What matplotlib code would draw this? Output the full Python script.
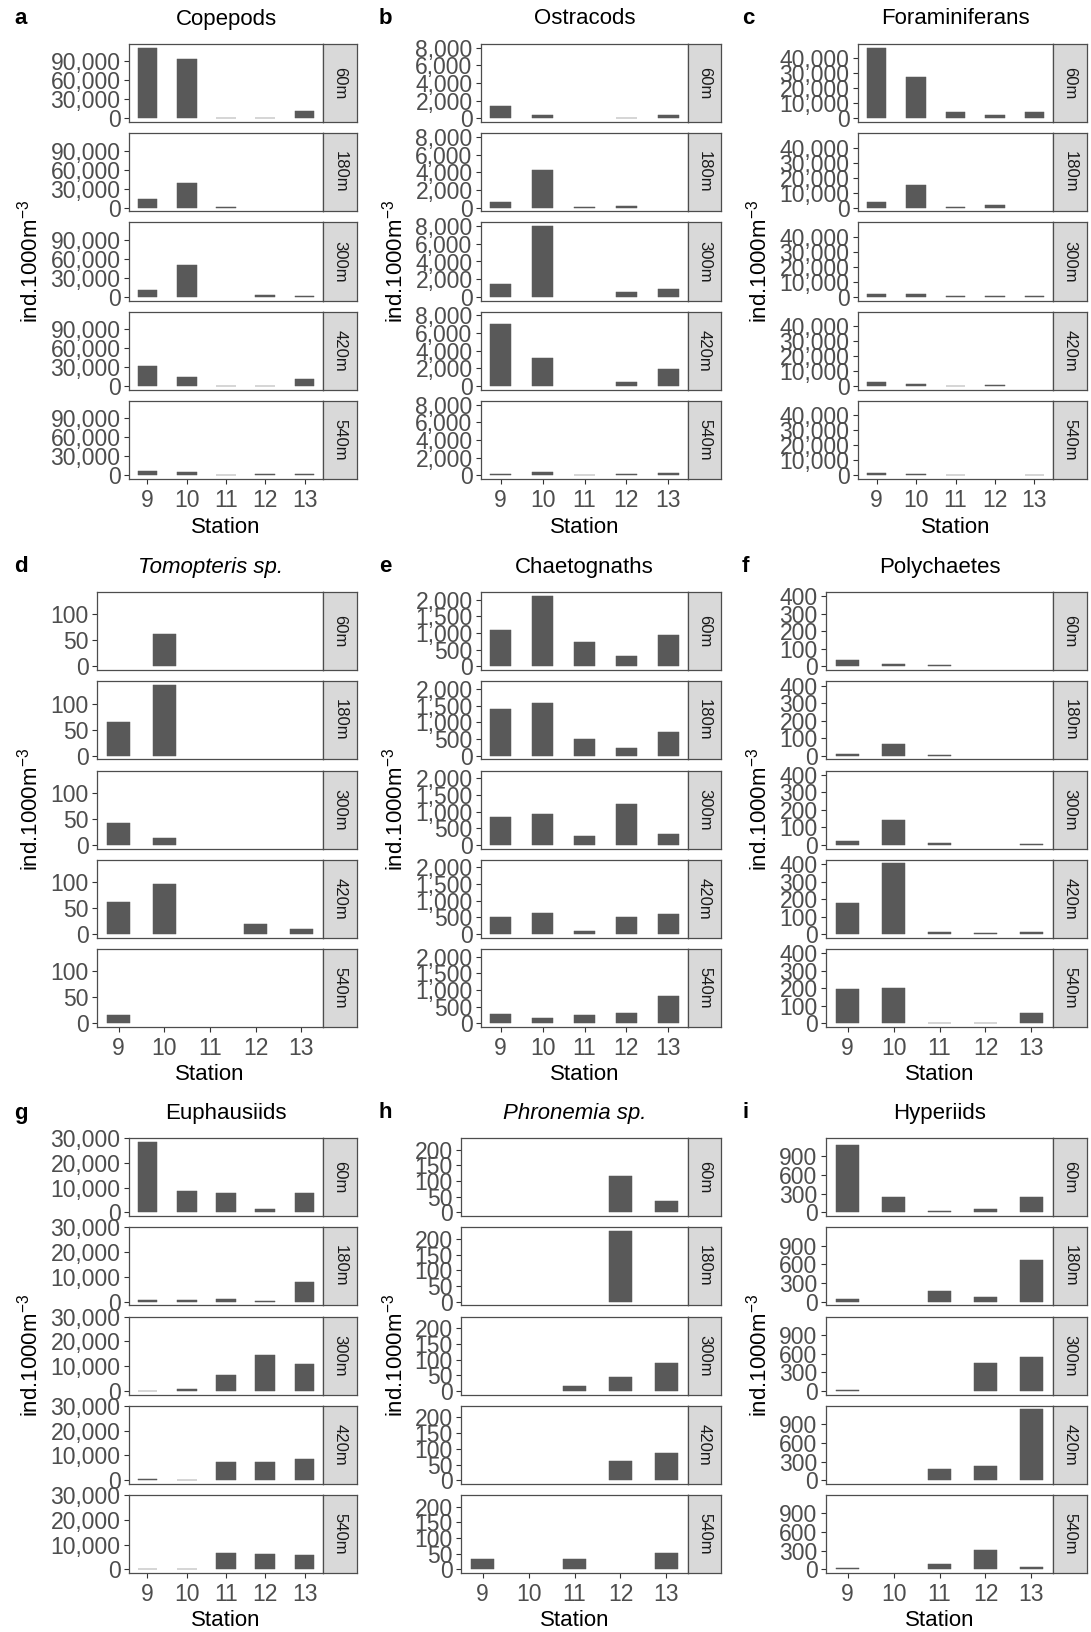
import numpy as np
import matplotlib.pyplot as plt
from matplotlib.ticker import FuncFormatter

plt.rcParams['font.family'] = ['Liberation Sans', 'DejaVu Sans']
plt.rcParams['mathtext.fontset'] = 'custom'
plt.rcParams['mathtext.rm'] = 'Liberation Sans'
plt.rcParams['mathtext.it'] = 'Liberation Sans:italic'

stations = ['9', '10', '11', '12', '13']
depths = ['60m', '180m', '300m', '420m', '540m']

# rows = depth (60..540m), columns = station (9..13)
copepods = [
    [112000, 93800, 500, 500, 12400],
    [13500, 39600, 800, 0, 0],
    [10300, 50400, 0, 2500, 800],
    [32300, 15100, 500, 800, 11800],
    [7000, 5400, 500, 3000, 2500],
]
ostracods = [
    [1440, 350, 0, 50, 430],
    [700, 4270, 100, 200, 0],
    [1480, 8000, 0, 580, 930],
    [6990, 3140, 0, 430, 1940],
    [120, 350, 50, 220, 300],
]
foraminiferans = [
    [47300, 27500, 4100, 2000, 4300],
    [4100, 15200, 800, 1600, 0],
    [2000, 2000, 600, 600, 600],
    [2700, 1600, 300, 600, 0],
    [1600, 700, 600, 0, 300],
]
tomopteris = [
    [0, 62.5, 0, 0, 0],
    [65.6, 136, 0, 0, 0],
    [42, 14, 0, 0, 0],
    [61, 97, 0, 20, 10],
    [16, 0, 0, 0, 0],
]
chaetognaths = [
    [1096, 2122, 731, 305, 944],
    [1395, 1590, 492, 236, 697],
    [841, 933, 256, 1220, 318],
    [510, 643, 82, 510, 602],
    [275, 163, 245, 327, 816],
]
polychaetes = [
    [37, 12, 6, 0, 0],
    [10, 65, 5, 0, 0],
    [22, 141, 10, 0, 6],
    [180, 405, 12, 8, 12],
    [198, 204, 4, 5, 61],
]
euphausiids = [
    [28600, 8600, 7800, 1400, 7900],
    [600, 600, 1250, 400, 7800],
    [150, 700, 6250, 14600, 10700],
    [300, 200, 7500, 7500, 8600],
    [300, 150, 6650, 6250, 6000],
]
phronemia = [
    [0, 0, 0, 117, 36],
    [0, 0, 0, 226, 0],
    [0, 0, 15, 44, 88],
    [0, 0, 0, 62, 87],
    [33, 0, 34, 0, 51],
]
hyperiids = [
    [1077, 254, 22, 50, 254],
    [39, 0, 166, 83, 674],
    [8, 0, 0, 447, 552],
    [0, 0, 177, 221, 1140],
    [20, 0, 83, 320, 44],
]

panels = [
    # letter, title, italic, data, y ticks, left, right, strip right, row
    ('a', 'Copepods', False, copepods, [0, 30000, 60000, 90000], 129, 323, 357, 0),
    ('b', 'Ostracods', False, ostracods, [0, 2000, 4000, 6000, 8000], 481, 688, 721, 0),
    ('c', 'Foraminiferans', False, foraminiferans, [0, 10000, 20000, 30000, 40000], 858, 1053, 1087, 0),
    ('d', 'Tomopteris sp.', True, tomopteris, [0, 50, 100], 97, 323, 357, 1),
    ('e', 'Chaetognaths', False, chaetognaths, [0, 500, 1000, 1500, 2000], 481, 688, 721, 1),
    ('f', 'Polychaetes', False, polychaetes, [0, 100, 200, 300, 400], 826, 1053, 1087, 1),
    ('g', 'Euphausiids', False, euphausiids, [0, 10000, 20000, 30000], 129, 323, 357, 2),
    ('h', 'Phronemia sp.', True, phronemia, [0, 50, 100, 150, 200], 461, 688, 721, 2),
    ('i', 'Hyperiids', False, hyperiids, [0, 300, 600, 900], 826, 1053, 1087, 2),
]

W, H = 1091, 1632
fig = plt.figure(figsize=(W / 100, H / 100), dpi=100)
fig.patch.set_facecolor('white')

row_tops = [44, 592, 1138]
fh = 78
gap = 11.25
col_letter_x = {0: 14, 1: 379, 2: 742}
ylab_x = {0: 30, 1: 395, 2: 759}
edge = '#4D4D4D'


def box(x0, y0, x1, y1):
    return [x0 / W, 1 - y1 / H, (x1 - x0) / W, (y1 - y0) / H]


fmt = FuncFormatter(lambda v, p: f'{v:,.0f}')
x = np.arange(len(stations))

for k, (letter, title, italic, data, yt, left, right, sright, row) in enumerate(panels):
    vals = np.array(data, dtype=float)
    ymax = vals.max()
    top = row_tops[row]
    for j, depth in enumerate(depths):
        y0 = top + j * (fh + gap)
        y1 = y0 + fh
        ax = fig.add_axes(box(left, y0, right, y1))
        h = vals[j]
        ax.bar(x[h > 0], h[h > 0], width=0.5, color='#595959',
               edgecolor='#595959', linewidth=0.35)
        ax.set_xlim(-0.47, 4.47)
        ax.set_ylim(-0.05 * ymax, 1.05 * ymax)
        ax.set_yticks(yt)
        ax.yaxis.set_major_formatter(fmt)
        ax.set_xticks(x)
        ax.tick_params(axis='both', length=3.6, width=0.8, color='#333333',
                       labelsize=16.5, labelcolor='#4D4D4D', pad=2.5)
        ax.tick_params(axis='x', pad=3.5)
        if j == len(depths) - 1:
            ax.set_xticklabels(stations)
        else:
            ax.tick_params(axis='x', labelbottom=False, length=0)
        for s in ax.spines.values():
            s.set_color(edge)
            s.set_linewidth(0.9)
        # strip
        sax = fig.add_axes(box(right, y0, sright, y1))
        sax.set_facecolor('#D9D9D9')
        sax.set_xticks([])
        sax.set_yticks([])
        for s in sax.spines.values():
            s.set_color(edge)
            s.set_linewidth(0.9)
        sax.text(0.5, 0.5, depth, rotation=-90, ha='center', va='center',
                 fontsize=12, color='#1A1A1A', transform=sax.transAxes)

    bottom = top + 5 * fh + 4 * gap
    cx = (left + right) / 2
    fig.text(cx / W, 1 - (top - 25) / H, title, ha='center', va='center',
             fontsize=16, style='italic' if italic else 'normal', color='black')
    fig.text(col_letter_x[k % 3] / W, 1 - (top - 25) / H, letter, ha='left',
             va='center', fontsize=16, fontweight='bold', color='black')
    fig.text(cx / W, 1 - (bottom + 48) / H, 'Station', ha='center', va='center',
             fontsize=16, color='black')
    fig.text(ylab_x[k % 3] / W, 1 - ((top + bottom) / 2) / H, 'ind.1000m$^{-3}$',
             rotation=90, ha='center', va='center', fontsize=16, color='black')

fig.savefig('out.png', dpi=100, facecolor='white')
